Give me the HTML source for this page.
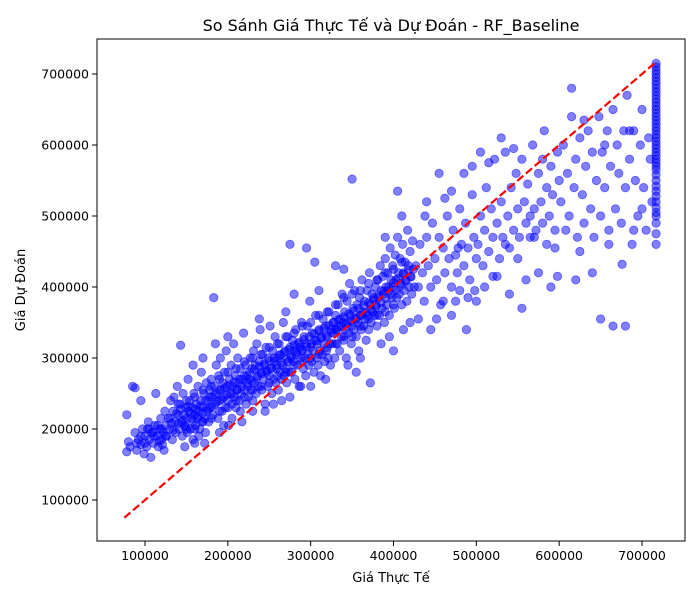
<!DOCTYPE html>
<html><head><meta charset="utf-8">
<style>
html,body{margin:0;padding:0;background:#fff;}
svg text{font-family:"DejaVu Sans","Liberation Sans",sans-serif;fill:#000;}
</style></head>
<body>
<svg id="chart" width="700" height="600" xmlns="http://www.w3.org/2000/svg">
<text x="391" y="31" text-anchor="middle" font-size="16">So Sánh Giá Thực Tế và Dự Đoán - RF_Baseline</text>
<text x="391" y="582" text-anchor="middle" font-size="13">Giá Thực Tế</text>
<text transform="translate(25,290) rotate(-90)" text-anchor="middle" font-size="13">Giá Dự Đoán</text>
<g id="points"></g>
<g id="refline"></g>
<g id="axes"></g>
</svg>
<script>
const xTicks = [100000,200000,300000,400000,500000,600000,700000];
const yTicks = [100000,200000,300000,400000,500000,600000,700000];
const refLine = [75000, 717000];
// [actual, predicted] in thousands
const points = [
[78,168],[80,182],[82,175],[85,260],[88,195],[90,170],[92,185],[95,178],[97,200],[99,165],[100,190],[102,175],[104,210],[105,185],[107,160],[108,195],[110,180],[112,205],[113,250],[115,190],[116,175],[118,200],[119,215],[120,185],[122,195],[123,170],[124,225],[125,205],[78,220],[88,258],[95,240],[103,200],[111,190],[117,183],[121,178],
[126,190],[128,215],[130,200],[131,240],[133,185],[134,225],[136,210],[137,195],[139,260],[140,220],[141,200],[142,235],[144,210],[145,190],[146,250],[147,220],[148,205],[149,230],[150,215],[151,195],[152,270],[153,225],[154,240],[155,200],[156,215],[157,230],[158,185],[159,250],[160,220],[161,205],[162,235],[163,215],[164,260],[165,225],[166,200],[167,240],[168,280],[169,210],[170,230],[171,250],[172,215],[173,195],[174,265],[175,225],[143,318],[158,290],[170,300],[135,245],[160,180],[148,175],[165,190],[172,180],
[176,240],[177,210],[178,255],[179,230],[180,270],[181,245],[182,220],[183,385],[184,260],[185,235],[186,290],[187,250],[188,215],[189,275],[190,240],[191,300],[192,255],[193,225],[194,265],[195,245],[196,280],[197,230],[198,310],[199,260],[200,240],[201,205],[202,270],[203,250],[204,290],[205,235],[206,260],[207,320],[208,245],[209,275],[210,230],[211,255],[212,300],[213,265],[214,240],[215,285],[216,250],[217,210],[218,270],[219,335],[220,255],[221,290],[222,235],[223,275],[224,260],[225,245],[185,320],[195,205],[205,215],[215,225],[200,330],[190,195],
[226,270],[227,300],[228,255],[229,285],[230,240],[231,310],[232,265],[233,290],[234,250],[235,320],[236,275],[237,260],[238,295],[239,340],[240,280],[241,255],[242,305],[243,270],[244,290],[245,235],[246,315],[247,280],[248,260],[249,300],[250,275],[251,345],[252,285],[253,250],[254,310],[255,270],[256,295],[257,330],[258,265],[259,285],[260,300],[261,255],[262,320],[263,280],[264,305],[265,270],[266,290],[267,350],[268,275],[269,310],[270,285],[271,265],[272,330],[273,295],[274,280],[275,315],[230,225],[245,225],[255,235],[265,240],[270,365],[275,245],[238,355],
[276,300],[277,280],[278,325],[279,295],[280,310],[281,270],[282,340],[283,305],[284,290],[285,320],[286,260],[287,315],[288,300],[289,350],[290,310],[291,285],[292,330],[293,300],[294,275],[295,320],[296,345],[297,305],[298,290],[299,380],[300,315],[301,295],[302,335],[303,310],[304,280],[305,325],[306,360],[307,300],[308,320],[309,290],[310,340],[311,310],[312,275],[313,330],[314,305],[315,355],[316,320],[317,295],[318,345],[319,310],[320,330],[321,300],[322,365],[323,320],[324,290],[325,340],[275,460],[295,455],[305,435],[288,260],[300,260],[318,270],[280,390],[310,395],
[326,320],[327,350],[328,335],[329,300],[330,360],[331,340],[332,320],[333,375],[334,345],[335,310],[336,355],[337,330],[338,390],[339,350],[340,325],[341,365],[342,340],[343,300],[344,380],[345,350],[346,335],[347,405],[348,360],[349,320],[350,345],[351,370],[352,340],[353,395],[354,355],[355,330],[356,375],[357,350],[358,310],[359,385],[360,360],[361,340],[362,410],[363,365],[364,345],[365,380],[366,355],[367,325],[368,395],[369,360],[370,340],[371,420],[372,375],[373,350],[374,390],[375,365],[350,552],[330,430],[345,290],[360,300],[372,265],[355,280],[340,425],
[376,385],[377,360],[378,400],[379,375],[380,345],[381,410],[382,385],[383,360],[384,430],[385,395],[386,370],[387,415],[388,390],[389,350],[390,440],[391,400],[392,375],[393,420],[394,395],[395,360],[396,455],[397,410],[398,385],[399,430],[400,400],[401,370],[402,445],[403,410],[404,385],[405,470],[406,420],[407,390],[408,440],[409,405],[410,375],[411,460],[412,420],[413,395],[414,435],[415,410],[416,380],[417,480],[418,430],[419,400],[420,450],[421,415],[422,390],[423,465],[424,425],[425,400],[385,320],[400,310],[412,340],[420,350],[395,330],[405,535],[410,500],[390,470],
[427,430],[430,400],[432,460],[435,420],[437,380],[440,470],[442,430],[445,400],[447,490],[450,440],[452,410],[455,470],[457,375],[460,455],[462,420],[465,500],[467,440],[470,400],[472,480],[475,445],[477,420],[480,510],[482,460],[485,430],[487,490],[490,455],[492,410],[495,530],[497,470],[500,440],[430,355],[445,340],[460,380],[470,360],[480,395],[490,385],[500,380],[440,520],[455,560],[470,535],[485,560],[495,570],[438,500],[462,525],[478,455],[488,340],[498,395],[452,355],[475,380],
[502,460],[505,500],[508,430],[510,480],[512,540],[515,450],[518,510],[520,470],[522,580],[525,490],[528,440],[530,520],[532,470],[535,590],[538,500],[540,455],[542,540],[545,480],[548,560],[550,510],[552,470],[555,580],[558,520],[560,490],[562,545],[565,470],[568,600],[570,510],[572,480],[575,560],[578,520],[580,490],[582,620],[585,540],[588,500],[590,570],[592,530],[595,480],[598,590],[600,550],[510,400],[525,415],[540,390],[555,370],[560,410],[575,420],[590,400],[598,415],[530,610],[545,595],[565,500],[580,580],[505,590],[515,575],[520,415],[535,460],[550,440],[570,470],[585,460],[595,455],
[602,520],[605,600],[608,480],[610,560],[612,500],[615,640],[618,540],[620,580],[622,470],[625,610],[628,530],[630,490],[632,570],[635,620],[638,510],[640,590],[642,470],[645,550],[648,640],[650,500],[652,590],[655,540],[658,620],[660,480],[662,570],[665,650],[668,510],[670,600],[672,560],[675,490],[678,620],[680,540],[682,670],[685,580],[688,460],[690,620],[692,550],[695,500],[698,600],[700,650],[702,540],[705,480],[708,610],[710,580],[712,520],[615,680],[630,635],[650,355],[665,345],[680,345],[676,432],[660,460],[640,420],[625,450],[690,480],[700,510],[620,410],[655,600],[685,620],
[717,460],[717,475],[717,490],[717,500],[717,505],[717,512],[717,520],[717,528],[717,535],[717,542],[717,550],[717,558],[717,565],[717,570],[717,575],[717,580],[717,585],[717,590],[717,595],[717,600],[717,605],[717,610],[717,615],[717,620],[717,625],[717,630],[717,635],[717,640],[717,645],[717,650],[717,655],[717,660],[717,665],[717,670],[717,675],[717,680],[717,685],[717,690],[717,695],[717,700],[717,705],[717,710],[717,715],
[130,215],[132,208],[134,198],[138,222],[140,208],[143,228],[146,212],[149,203],[152,232],[155,222],[158,210],[161,228],[164,218],[167,232],[170,222],[173,240],[176,228],[178,245],[181,232],[184,248],[187,238],[190,255],[193,242],[196,258],[199,248],[202,262],[205,250],[208,266],[211,256],[214,270],[217,260],[220,275],[223,265],[226,280],[229,268],[232,284],[235,272],[238,288],[241,278],[244,292],[247,282],[250,296],[253,286],[256,300],[259,290],[262,304],[265,294],[268,308],[271,298],[274,312],[277,302],[280,318],[283,308],[286,322],[289,312],[292,326],[295,316],[298,330],[301,320],[304,334],[307,324],[310,338],[313,328],[316,342],[319,332],[322,346],[325,336],[328,350],[331,340],[334,354],[337,344],[340,358],[343,348],[346,362],[349,352],[352,366],[355,356],[358,370],[361,360],[364,374],[367,364],[370,378],[373,368],[376,382],[379,372],[382,388],[385,378],[388,394],[391,384],[394,400],[397,390],[400,406],[403,396],[406,412],[409,402],[412,418],[415,408],[418,424],[421,414],
[140,235],[150,240],[160,245],[170,255],[180,260],[190,270],[200,280],[210,285],[220,295],[230,300],[240,305],[250,315],[260,320],[270,330],[280,335],[290,345],[300,350],[310,360],[320,365],[330,375],[340,385],[350,390],[360,395],[370,405],[380,410],[390,420],[400,425],[410,435],
[150,200],[160,200],[170,210],[180,215],[190,225],[200,230],[210,240],[220,245],[230,255],[240,260],[250,265],[260,275],[270,280],[280,290],[290,295],[300,300],[310,305],[320,315],[330,320],[340,330],[350,330],[360,345],[370,355],[380,360],[390,365],[400,375],
[120,200],[115,205],[110,195],[105,200],[125,190],[100,180],[95,190],[90,180]
];
const NS="http://www.w3.org/2000/svg";
const L=97,R=685,T=39,B=541;
function xs(v){return 145+(v-100000)*497/600000;}
function ys(v){return 500-(v-100000)*426/600000;}
const pg=document.getElementById('points');
points.forEach(p=>{
  const c=document.createElementNS(NS,'circle');
  
  
  c.setAttribute('cx',xs(p[0]*1000));c.setAttribute('cy',ys(p[1]*1000));
  c.setAttribute('r',4.2);c.setAttribute('fill','rgba(0,0,255,0.5)');
  c.setAttribute('stroke','rgba(0,0,255,0.5)');c.setAttribute('stroke-width','0.8');
  pg.appendChild(c);
});
const rl=document.createElementNS(NS,'line');


rl.setAttribute('x1',xs(refLine[0]));rl.setAttribute('y1',ys(refLine[0]));
rl.setAttribute('x2',xs(refLine[1]));rl.setAttribute('y2',ys(refLine[1]));
rl.setAttribute('stroke','#ff0000');rl.setAttribute('stroke-width','2.2');rl.setAttribute('stroke-dasharray','8,3.5');
document.getElementById('refline').appendChild(rl);
const ax=document.getElementById('axes');
const fr=document.createElementNS(NS,'rect');


fr.setAttribute('x',L);fr.setAttribute('y',T);fr.setAttribute('width',R-L);fr.setAttribute('height',B-T);
fr.setAttribute('fill','none');fr.setAttribute('stroke','#000');fr.setAttribute('stroke-width','1');
ax.appendChild(fr);
xTicks.forEach(v=>{
  const x=xs(v);
  const t=document.createElementNS(NS,'line');
  
  
  t.setAttribute('x1',x);t.setAttribute('x2',x);t.setAttribute('y1',B);t.setAttribute('y2',B+5);t.setAttribute('stroke','#000');
  ax.appendChild(t);
  const tx=document.createElementNS(NS,'text');
  
  
  tx.setAttribute('x',x);tx.setAttribute('y',B+19);tx.setAttribute('text-anchor','middle');tx.setAttribute('font-size','12.5');
  tx.textContent=String(v);ax.appendChild(tx);
});
yTicks.forEach(v=>{
  const y=ys(v);
  const t=document.createElementNS(NS,'line');
  
  
  t.setAttribute('x1',L-5);t.setAttribute('x2',L);t.setAttribute('y1',y);t.setAttribute('y2',y);t.setAttribute('stroke','#000');
  ax.appendChild(t);
  const tx=document.createElementNS(NS,'text');
  
  
  tx.setAttribute('x',L-8);tx.setAttribute('y',y+4.5);tx.setAttribute('text-anchor','end');tx.setAttribute('font-size','12.5');
  tx.textContent=String(v);ax.appendChild(tx);
});
</script>
</body></html>
